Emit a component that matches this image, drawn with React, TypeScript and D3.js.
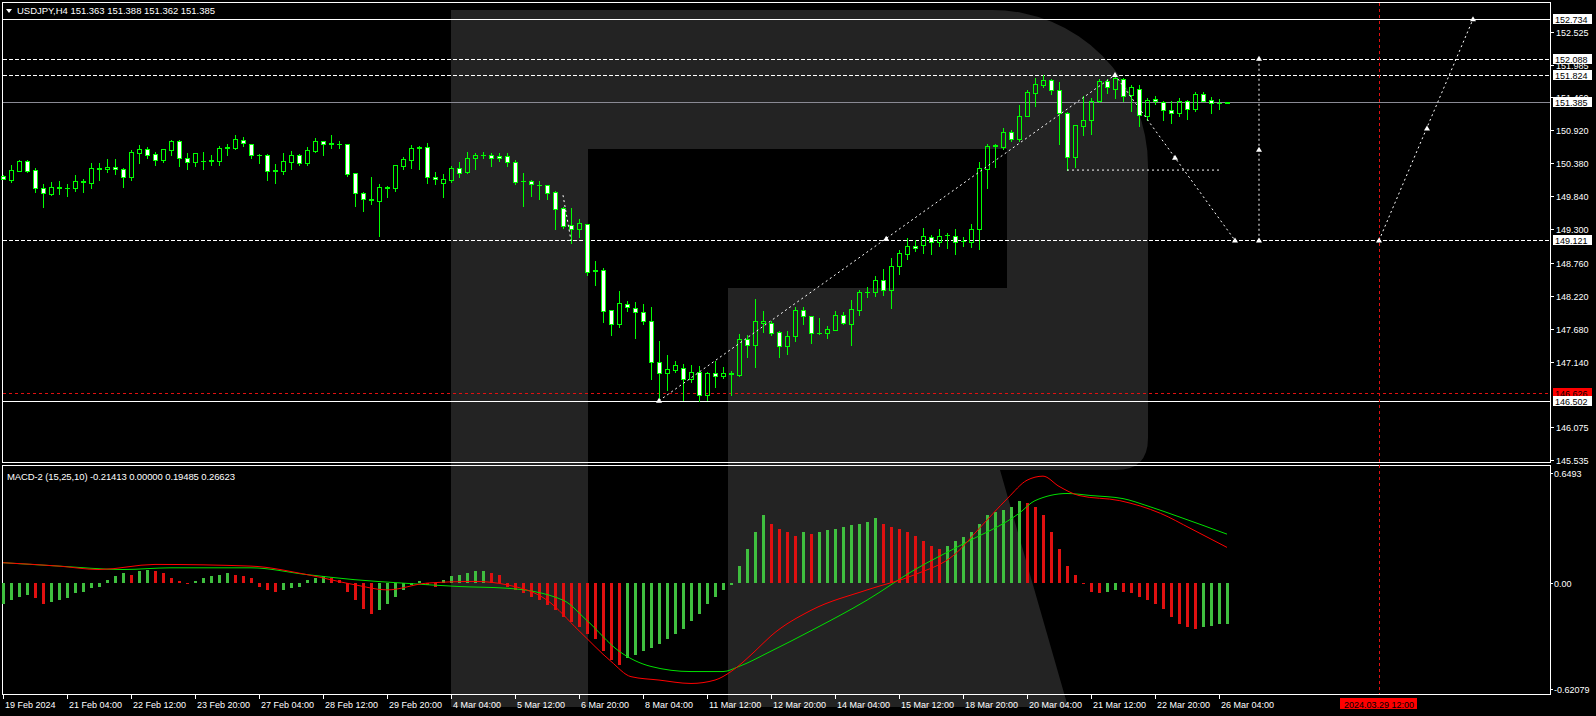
import React from "react";
import * as d3 from "d3";

// ---------- DATA ----------
const OPEN = [150.18,150.11,150.26,150.42,150.27,149.97,149.88,149.99,149.98,149.97,
150.08,150.06,150.29,150.28,150.32,150.29,150.16,150.55,150.61,150.53,
150.44,150.60,150.75,150.46,150.41,150.42,150.42,150.42,150.635,150.63,
150.76,150.69,150.52,150.51,150.26,150.26,150.41,150.52,150.39,150.58,
150.74,150.70,150.70,150.69,150.22,149.89,149.79,149.77,149.98,149.97,
150.34,150.44,150.63,150.64,150.15,150.06,150.11,150.30,150.24,150.46,
150.51,150.51,150.50,150.50,150.41,150.09,150.09,150.03,150.02,149.91,
149.65,149.37,149.31,149.39,148.63,148.63,147.98,147.76,148.09,148.01,
147.96,147.80,147.13,146.95,147.01,147.03,146.86,146.97,146.60,146.95,
146.91,146.94,146.92,147.51,147.42,147.78,147.78,147.62,147.40,147.56,
147.98,147.88,147.61,147.61,147.66,147.91,147.76,147.99,148.28,148.28,
148.47,148.31,148.71,148.90,149.03,149.05,149.18,149.10,149.21,149.20,
149.11,149.10,149.30,150.29,150.67,150.65,150.89,150.77,151.16,151.53,
151.66,151.74,151.57,151.20,150.49,150.99,151.08,151.39,151.72,151.59,
151.76,151.49,151.60,151.16,151.43,151.38,151.25,151.21,151.39,151.26,
151.51,151.41,151.37,151.363];
const HIGH = [150.19,150.35,150.44,150.44,150.30,150.04,150.07,150.09,150.04,150.19,
150.12,150.39,150.39,150.45,150.45,150.30,150.59,150.68,150.65,150.57,
150.61,150.76,150.76,150.55,150.55,150.57,150.52,150.66,150.70,150.84,
150.81,150.69,150.53,150.53,150.37,150.55,150.58,150.53,150.65,150.79,
150.74,150.84,150.75,150.70,150.22,149.92,150.16,150.04,150.01,150.36,
150.48,150.68,150.66,150.71,150.24,150.21,150.33,150.40,150.57,150.55,
150.57,150.55,150.55,150.55,150.43,150.22,150.11,150.09,150.02,149.93,
149.67,149.65,149.47,149.39,148.79,148.67,147.98,148.30,148.13,148.11,
148.08,148.03,147.48,147.25,147.16,147.11,147.09,147.07,146.98,147.16,
147.05,146.99,147.60,147.58,148.16,147.97,147.81,147.64,147.64,148.04,
148.03,147.89,147.85,147.72,147.97,147.96,148.15,148.31,148.36,148.54,
148.65,148.83,148.96,149.16,149.12,149.32,149.21,149.30,149.24,149.30,
149.17,149.39,150.40,150.70,150.70,150.95,150.92,151.34,151.58,151.77,
151.82,151.76,151.71,151.22,151.00,151.48,151.44,151.75,151.76,151.824,
151.77,151.66,151.66,151.44,151.48,151.40,151.39,151.45,151.42,151.54,
151.54,151.46,151.43,151.388];
const LOW = [150.12,150.08,150.25,150.24,149.92,149.67,149.86,149.88,149.84,149.93,
149.92,149.98,150.11,150.24,150.21,150.00,150.11,150.39,150.47,150.36,
150.41,150.52,150.33,150.28,150.33,150.28,150.36,150.36,150.52,150.61,
150.67,150.47,150.39,150.11,150.06,150.20,150.29,150.35,150.35,150.57,
150.52,150.63,150.63,150.18,149.68,149.60,149.72,149.19,149.83,149.93,
150.29,150.30,150.29,150.06,150.04,149.83,150.08,150.16,150.23,150.29,
150.47,150.34,150.42,150.34,150.05,149.68,149.84,149.80,149.80,149.31,
149.33,149.08,149.18,148.55,148.39,147.79,147.57,147.71,147.97,147.52,
147.76,146.86,146.502,146.68,146.98,146.52,146.81,146.50,146.52,146.73,
146.88,146.60,146.91,147.21,147.06,147.63,147.58,147.22,147.27,147.48,
147.76,147.45,147.60,147.52,147.65,147.76,147.42,147.91,148.20,148.22,
148.23,148.02,148.58,148.81,148.95,148.92,148.90,149.03,149.00,148.90,
149.03,149.01,148.98,149.98,150.32,150.61,150.75,150.75,151.15,151.32,
151.62,151.51,150.70,150.27,150.32,150.85,150.86,151.38,151.53,151.44,
151.40,151.24,150.99,151.08,151.35,151.08,151.04,151.15,151.11,151.23,
151.39,151.21,151.27,151.362];
const CLOSE = [150.13,150.27,150.42,150.26,149.98,149.89,149.99,149.98,149.98,150.09,
150.09,150.30,150.30,150.32,150.28,150.16,150.57,150.61,150.52,150.44,
150.61,150.75,150.47,150.41,150.55,150.42,150.43,150.63,150.642,150.77,
150.71,150.51,150.51,150.26,150.27,150.42,150.52,150.39,150.60,150.75,
150.70,150.71,150.70,150.21,149.90,149.79,149.78,149.99,149.99,150.35,
150.45,150.63,150.64,150.15,150.12,150.13,150.30,150.23,150.46,150.51,
150.51,150.46,150.46,150.41,150.08,150.09,150.05,150.02,149.90,149.64,
149.36,149.31,149.40,148.61,148.62,147.97,147.76,148.10,148.03,147.96,
147.80,147.13,146.95,147.02,147.08,146.86,146.97,146.60,146.96,146.91,
146.95,146.95,147.51,147.42,147.80,147.80,147.61,147.40,147.56,147.98,
147.88,147.61,147.61,147.67,147.91,147.77,148.00,148.28,148.28,148.47,
148.31,148.71,148.91,149.03,148.99,149.19,149.10,149.20,149.21,149.10,
149.11,149.30,150.30,150.67,150.68,150.89,150.78,151.16,151.54,151.68,
151.74,151.57,151.20,150.49,151.00,151.08,151.40,151.72,151.62,151.78,
151.48,151.62,151.17,151.41,151.40,151.25,151.21,151.40,151.26,151.51,
151.40,151.36,151.36,151.385];

const TIME_LABELS = ["19 Feb 2024","21 Feb 04:00","22 Feb 12:00","23 Feb 20:00","27 Feb 04:00",
"28 Feb 12:00","29 Feb 20:00","4 Mar 04:00","5 Mar 12:00","6 Mar 20:00","8 Mar 04:00",
"11 Mar 12:00","12 Mar 20:00","14 Mar 04:00","15 Mar 12:00","18 Mar 20:00","20 Mar 04:00",
"21 Mar 12:00","22 Mar 20:00","26 Mar 04:00"];
const PRICE_TICKS = [152.525,151.985,151.46,150.92,150.38,149.84,149.3,148.76,148.22,147.68,147.14,146.075,145.535];
const PRICE_TICK_TEXT = ["152.525","151.985","151.460","150.920","150.380","149.840","149.300","148.760","148.220","147.680","147.140","146.075","145.535"];

const LEVEL_SOLID = [152.734, 146.502];
const LEVEL_DASHED = [152.088, 151.824, 149.121];
const BID = 151.385;
const RED_LEVEL = 146.626;
const FUTURE_BAR = 172;
const FUTURE_LABEL = "2024.03.29 12:00";

// forecast lines: [bar, price]
const FORECAST_LINES: [number, number][][] = [
  [[82, 146.502], [139, 151.824]],
  [[139, 151.824], [154, 149.121]],
  [[157, 152.088], [157, 149.121]],
  [[172, 149.121], [183.75, 152.734]],
  [[133, 150.27], [152, 150.27]],
  [[70, 149.86], [71, 149.121]],
];
const FORECAST_MARKS: [number, number][] = [
  [82, 146.502], [110.4, 149.15], [139, 151.824], [146.5, 150.47], [154, 149.121],
  [157, 152.088], [157, 150.6], [157, 149.121], [172, 149.121], [178, 150.95], [183.75, 152.734],
];

const MACD_HIST = [-0.12,-0.10,-0.08,-0.07,-0.09,-0.12,-0.11,-0.10,-0.09,-0.06,
-0.05,-0.03,-0.02,0.02,0.04,0.06,0.05,0.07,0.08,0.07,
0.06,0.03,0.01,0.00,0.01,0.03,0.04,0.05,0.06,0.05,
0.04,0.03,-0.02,-0.04,-0.05,-0.04,-0.03,-0.02,0.02,0.03,
0.04,0.03,0.02,-0.05,-0.10,-0.15,-0.18,-0.16,-0.12,-0.08,
-0.04,-0.01,0.01,-0.01,-0.02,0.02,0.04,0.05,0.06,0.07,
0.07,0.06,0.05,-0.02,-0.04,-0.06,-0.08,-0.10,-0.13,-0.16,
-0.20,-0.23,-0.26,-0.30,-0.33,-0.40,-0.45,-0.48,-0.44,-0.42,
-0.40,-0.38,-0.36,-0.33,-0.30,-0.27,-0.22,-0.18,-0.12,-0.08,
-0.04,-0.01,0.10,0.20,0.30,0.40,0.35,0.32,0.30,0.28,
0.30,0.29,0.30,0.31,0.32,0.33,0.34,0.35,0.36,0.38,
0.35,0.33,0.32,0.30,0.28,0.25,0.22,0.20,0.22,0.25,
0.27,0.30,0.35,0.40,0.42,0.43,0.45,0.48,0.47,0.45,
0.40,0.30,0.20,0.10,0.05,0.00,-0.05,-0.06,-0.05,-0.04,
-0.05,-0.06,-0.08,-0.10,-0.12,-0.15,-0.20,-0.24,-0.26,-0.27,
-0.26,-0.25,-0.24,-0.24];
const MACD_SIGNAL_PTS: [number, number][] = [[0,0.12],[7,0.10],[15,0.08],[21,0.09],[31,0.09],[38,0.05],[44,0.02],[50,0.0],[57,-0.02],[63,-0.03],[70,-0.10],[73,-0.22],[77,-0.40],[81,-0.49],[86,-0.52],[90,-0.52],[92,-0.49],[96,-0.40],[101,-0.28],[108,-0.10],[114,0.08],[120,0.23],[127,0.41],[129,0.485],[133,0.527],[136,0.515],[140,0.497],[143,0.455],[147,0.39],[153,0.288]];
const MACD_MAIN_PTS: [number, number][] = [[0,0.12],[7,0.10],[12,0.08],[19,0.11],[31,0.10],[38,0.05],[44,-0.01],[48,-0.04],[53,0.0],[59,0.01],[63,-0.01],[68,-0.10],[72,-0.28],[76,-0.46],[78.5,-0.55],[82,-0.57],[86,-0.59],[89,-0.57],[91,-0.52],[94,-0.40],[96,-0.31],[101,-0.16],[108,-0.04],[114,0.05],[119,0.17],[122,0.32],[125.6,0.50],[128,0.605],[130,0.629],[132,0.569],[134.5,0.515],[139.6,0.485],[144.7,0.41],[148.5,0.32],[153,0.21]];
const MACD_TICKS = [0.6493, 0, -0.62079];
const MACD_TICK_TEXT = ["0.6493", "0.00", "-0.62079"];

// ---------- STYLE / LAYOUT ----------
const W = 1596, H = 716;
const RIGHT = 1550;
const GREEN = "#00ff00";
const FONT = "'Liberation Sans', Arial, sans-serif";

export default function App() {
  const x = d3.scaleLinear().domain([0, 1]).range([3, 11]);
  const y = d3.scaleLinear().domain([145.535, 152.525]).range([460, 32]);
  const ym = d3.scaleLinear().domain([-0.62079, 0.6493]).range([688.7, 472.7]);
  const ry = (v: number) => Math.round(y(v));

  const lineGen = d3.line<[number, number]>().x(d => x(d[0])).y(d => ym(d[1])).curve(d3.curveMonotoneX);

  const candles = OPEN.map((o, i) => {
    const cx = Math.round(x(i));
    const yo = ry(o), yc = ry(CLOSE[i]), yh = ry(HIGH[i]), yl = ry(LOW[i]);
    const top = Math.min(yo, yc), bot = Math.max(yo, yc);
    const bear = CLOSE[i] < o;
    const els: any[] = [];
    if (bot - top < 2) {
      els.push(<line key="w" x1={cx + 0.5} x2={cx + 0.5} y1={yh} y2={yl + 1} stroke={GREEN} />);
      els.push(<rect key="b" x={cx - 2} y={top} width={5} height={bot - top + 1} fill={GREEN} />);
    } else {
      if (yh < top) els.push(<line key="w1" x1={cx + 0.5} x2={cx + 0.5} y1={yh} y2={top} stroke={GREEN} />);
      if (yl > bot) els.push(<line key="w2" x1={cx + 0.5} x2={cx + 0.5} y1={bot + 1} y2={yl + 1} stroke={GREEN} />);
      els.push(<rect key="b" x={cx - 1.5} y={top + 0.5} width={4} height={bot - top} fill={bear ? "#ffffff" : "none"} stroke={GREEN} />);
    }
    return <g key={i}>{els}</g>;
  });

  const hist = MACD_HIST.map((v, i) => {
    const cx = Math.round(x(i));
    const y0 = Math.round(ym(0));
    const yv = Math.round(ym(v));
    const prev = i > 0 ? MACD_HIST[i - 1] : v;
    const col = v >= prev ? "#3fbf3f" : "#e01010";
    return <rect key={i} x={cx - 1} y={Math.min(y0, yv)} width={3} height={Math.max(1, Math.abs(yv - y0))} fill={col} />;
  });

  const levelBox = (v: number, txt: string, bg: string, key: string) => (
    <g key={key}>
      <rect x={1553} y={Math.round(y(v)) - 5} width={39} height={10} fill={bg} />
      <text x={1555} y={Math.round(y(v)) + 4} fontSize={9} fill="#000" fontFamily={FONT}>{txt}</text>
    </g>
  );

  return (
    <svg width={W} height={H} style={{ position: "absolute", left: 0, top: 0, background: "#000" }} fontFamily={FONT}>
      <rect x={0} y={0} width={W} height={H} fill="#000" />
      {/* watermark logo */}
      <path d="M451 10 H992 A156 156 0 0 1 1148 166 V438 Q1148 470 1116 470 H1000 L1068 707 H728 V288 H1007 V149 H588 V707 H451 Z" fill="#232323" />

      {/* panels */}
      <g shapeRendering="crispEdges">
        <rect x={2.5} y={2.5} width={RIGHT - 2} height={460} fill="none" stroke="#fff" />
        <rect x={2.5} y={465.5} width={RIGHT - 2} height={229} fill="none" stroke="#fff" />
      </g>

      <g shapeRendering="crispEdges">
        {LEVEL_SOLID.map(v => <line key={v} x1={3} x2={RIGHT} y1={ry(v) + 0.5} y2={ry(v) + 0.5} stroke="#fff" />)}
        {LEVEL_DASHED.map(v => <line key={v} x1={3} x2={RIGHT} y1={ry(v) + 0.5} y2={ry(v) + 0.5} stroke="#fff" strokeDasharray="4,2" />)}
        <line x1={3} x2={RIGHT} y1={ry(BID) + 0.5} y2={ry(BID) + 0.5} stroke="#8a8a94" />
        <line x1={3} x2={RIGHT} y1={ry(RED_LEVEL) + 0.5} y2={ry(RED_LEVEL) + 0.5} stroke="#e01010" strokeDasharray="3,3" />
        <line x1={Math.round(x(FUTURE_BAR)) + 0.5} x2={Math.round(x(FUTURE_BAR)) + 0.5} y1={3} y2={694} stroke="#e01010" strokeDasharray="3,3" />
      </g>

      <g shapeRendering="crispEdges">{candles}</g>

      {/* forecast lines */}
      <g>
        {FORECAST_LINES.map((seg, k) => (
          <line key={k} x1={x(seg[0][0])} y1={y(seg[0][1])} x2={x(seg[1][0])} y2={y(seg[1][1])} stroke="#fff" strokeDasharray="2,3" strokeWidth={1} />
        ))}
        {FORECAST_MARKS.map((m, k) => (
          <path key={k} d={`M${x(m[0]) - 3},${y(m[1]) + 2} L${x(m[0])},${y(m[1]) - 3} L${x(m[0]) + 3},${y(m[1]) + 2} Z`} fill="#fff" />
        ))}
      </g>

      {/* header */}
      <path d="M6,9 L12,9 L9,13 Z" fill="#fff" />
      <text x={17} y={14} fontSize={9.5} fill="#fff" textLength={198} lengthAdjust="spacing">USDJPY,H4  151.363 151.388 151.362 151.385</text>

      {/* price axis */}
      <g shapeRendering="crispEdges">
        {PRICE_TICKS.map((v, k) => (
          <g key={k}>
            <line x1={RIGHT} x2={RIGHT + 4} y1={ry(v) + 0.5} y2={ry(v) + 0.5} stroke="#fff" />
            <text x={1556} y={ry(v) + 4} fontSize={9} fill="#fff">{PRICE_TICK_TEXT[k]}</text>
          </g>
        ))}
      </g>
      {levelBox(152.734, "152.734", "#fff", "a")}
      {levelBox(152.088, "152.088", "#fff", "b")}
      {levelBox(151.824, "151.824", "#fff", "c")}
      {levelBox(BID, "151.385", "#fff", "d")}
      {levelBox(149.121, "149.121", "#fff", "e")}
      {levelBox(RED_LEVEL, "146.626", "#ff0000", "f")}
      {levelBox(146.502, "146.502", "#fff", "g")}

      {/* MACD */}
      <g shapeRendering="crispEdges">{hist}</g>
      <path d={lineGen(MACD_SIGNAL_PTS) || ""} fill="none" stroke="#00e000" strokeWidth={1} />
      <path d={lineGen(MACD_MAIN_PTS) || ""} fill="none" stroke="#ff0000" strokeWidth={1} />
      <text x={7} y={480} fontSize={9.5} fill="#fff" textLength={228} lengthAdjust="spacing">MACD-2 (15,25,10) -0.21413 0.00000 0.19485 0.26623</text>
      <g shapeRendering="crispEdges">
        {MACD_TICKS.map((v, k) => (
          <g key={k}>
            <line x1={RIGHT} x2={RIGHT + 3} y1={Math.round(ym(v)) + 0.5} y2={Math.round(ym(v)) + 0.5} stroke="#fff" />
            <text x={1554} y={Math.round(ym(v)) + 4} fontSize={9} fill="#fff">{MACD_TICK_TEXT[k]}</text>
          </g>
        ))}
      </g>

      {/* time axis */}
      <g shapeRendering="crispEdges">
        {TIME_LABELS.map((t, k) => {
          const tx = Math.round(x(k * 8));
          return (
            <g key={k}>
              <line x1={tx + 0.5} x2={tx + 0.5} y1={695} y2={699} stroke="#fff" />
              <text x={tx + 2} y={708} fontSize={9} fill="#fff">{t}</text>
            </g>
          );
        })}
        <rect x={Math.round(x(FUTURE_BAR)) - 39} y={698} width={77} height={11} fill="#ff0000" />
        <text x={Math.round(x(FUTURE_BAR))} y={707.5} fontSize={9} fill="#000" textAnchor="middle">{FUTURE_LABEL}</text>
      </g>
    </svg>
  );
}
